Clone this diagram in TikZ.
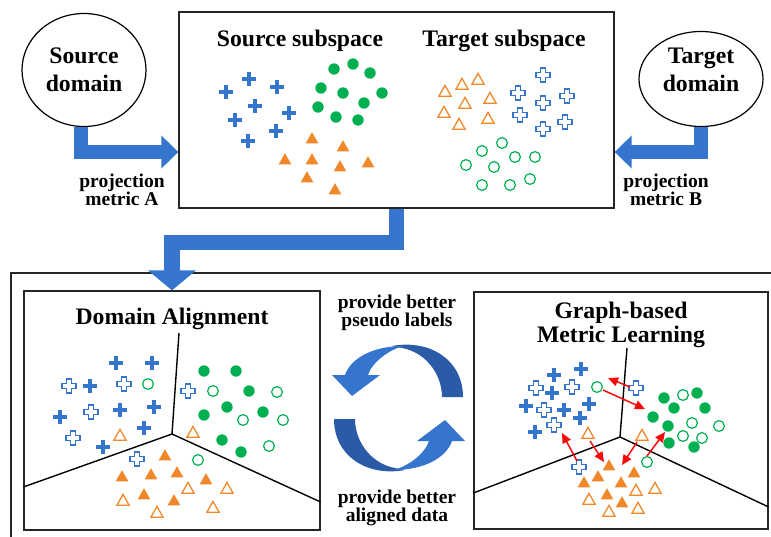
\documentclass[tikz,border=0pt]{standalone}
\usepackage{fontspec}
\setmainfont{Liberation Serif}
\usetikzlibrary{arrows.meta,shapes.geometric}
\definecolor{mblue}{RGB}{54,117,205}
\definecolor{darkblue}{RGB}{43,91,166}
\definecolor{morange}{RGB}{240,135,40}
\definecolor{mgreen}{RGB}{0,176,80}
\definecolor{mred}{RGB}{245,10,10}
\tikzset{
  frame/.style={draw=black!85, line width=1.3pt},
  sepline/.style={draw=black, line width=1.4pt},
  ttl/.style={font=\fontsize{23.7}{26}\selectfont\bfseries, anchor=base, inner sep=0pt},
  sml/.style={font=\fontsize{19.5}{20}\selectfont\bfseries, anchor=base, inner sep=0pt},
  domainell/.style={draw=black, line width=1.2pt, ellipse, inner sep=0pt},
  bigarrow/.style={draw=mblue, line width=14.5pt, -{Triangle[length=17pt,width=32pt]}},
  redarrow/.style={draw=mred, line width=1.5pt, -{Triangle[length=10pt,width=9pt]}},
  fplus/.pic={\fill[mblue] (-6.8,-2.1) rectangle (6.8,2.1); \fill[mblue] (-2.1,-6.8) rectangle (2.1,6.8);},
  hplus/.pic={\draw[mblue, line width=1.1pt, fill=white] (-2.5,-7)--(2.5,-7)--(2.5,-2.5)--(7,-2.5)--(7,2.5)--(2.5,2.5)--(2.5,7)--(-2.5,7)--(-2.5,2.5)--(-7,2.5)--(-7,-2.5)--(-2.5,-2.5)--cycle;},
  ftri/.pic={\fill[morange] (0,-5.8)--(6.3,5.3)--(-6.3,5.3)--cycle;},
  otri/.pic={\draw[morange, line width=1.3pt, line join=miter] (0,-5.6)--(6.1,5.2)--(-6.1,5.2)--cycle;},
  fcirc/.pic={\fill[mgreen] (0,0) circle (5.7pt);},
  ocirc/.pic={\draw[mgreen, line width=1.2pt] (0,0) circle (5.4pt);},
}
\begin{document}
\begin{tikzpicture}[x=1pt,y=-1pt]
\useasboundingbox (0,0) rectangle (771,536);
\clip (0,0) rectangle (771,536);

% ---------- top row ----------
\node[domainell, minimum width=124pt, minimum height=113pt] (srcdom) at (84,70) {};
\node[ttl] (srcA) at (84,63) {Source};
\node[ttl] (srcB) at (84,91) {domain};
\node[domainell, minimum width=124pt, minimum height=95pt] (tgtdom) at (701,79) {};
\node[ttl] (tgtA) at (701,63) {Target};
\node[ttl] (tgtB) at (701,91) {domain};

\node[frame, minimum width=435pt, minimum height=196pt, inner sep=0pt] (topbox) at (396.5,110) {};
\node[ttl] (srcsub) at (300,46) {Source subspace};
\node[ttl] (tgtsub) at (504,46) {Target subspace};

\coordinate (ain) at (topbox.west |- 0,152);
\coordinate (bin) at (topbox.east |- 0,152);
\draw[bigarrow] ([xshift=-3pt]srcdom.south) |- (ain);
\draw[bigarrow, line width=13.5pt] (tgtdom.south) |- (bin);

\node[sml] (pmA1) at (122,187) {projection};
\node[sml] (pmA2) at (122,205) {metric A};
\node[sml] (pmB1) at (666,187) {projection};
\node[sml] (pmB2) at (666,205) {metric B};

% top markers
\foreach \p in {(226,92),(249,79),(277,87),(255,106),(289,113),(235,120),(276,131),(248,141)} \pic at \p {fplus};
\foreach \p in {(334,69),(353,64),(370,73),(321,88),(343,93),(382,93),(318,107),(364,103),(336,117),(358,120)} \pic at \p {fcirc};
\foreach \p in {(312,138),(343,146),(285,159),(312,159),(340,166),(368,162),(307,177),(335,189)} \pic at \p {ftri};
\foreach \p in {(445,91),(462,84),(478,79),(490,98),(465,103),(444,112),(488,118),(459,124)} \pic at \p {otri};
\foreach \p in {(543,75),(518,93),(543,103),(567,96),(520,115),(565,122),(543,129)} \pic at \p {hplus};
\foreach \p in {(502,143),(482,151),(515,157),(535,157),(466,165),(494,167),(530,179),(482,185),(510,185)} \pic at \p {ocirc};

% ---------- bottom ----------
\draw[frame] (11,560) -- (11,273) -- (790,273);
\node[frame, minimum width=296pt, minimum height=239pt, inner sep=0pt] (leftpanel) at (172,410.5) {};
\node[frame, minimum width=294pt, minimum height=237pt, inner sep=0pt] (rightpanel) at (621,410.5) {};

\draw[bigarrow, line width=15.5pt, -{Triangle[length=20pt,width=47pt]}] (topbox.south) -- ++(0,34) -| (leftpanel.north);

\node[ttl] (datitle) at (172,324) {Domain Alignment};
\node[ttl] (gmA) at (621,318) {Graph-based};
\node[ttl] (gmB) at (621,342) {Metric Learning};

% separators left
\coordinate (jl) at (172,434);
\coordinate (jlu) at (179,333);
\coordinate (jll) at (leftpanel.west |- 0,487);
\coordinate (jlr) at (leftpanel.east |- 0,502);
\draw[sepline] (jlu) -- (jl) -- (jll);
\draw[sepline] (jl) -- (jlr);
% separators right
\coordinate (jr) at (620,437);
\coordinate (jru) at (627,348);
\coordinate (jrl) at (rightpanel.west |- 0,493);
\coordinate (jrr) at (rightpanel.east |- 0,507);
\draw[sepline] (jru) -- (jr) -- (jrl);
\draw[sepline] (jr) -- (jrr);

% left markers
\foreach \p in {(116,363),(152,363),(90,386),(60,417),(120,410),(154,407),(144,428),(103,447)} \pic at \p {fplus};
\foreach \p in {(69,386),(124,384),(91,412),(73,438),(188,391),(137,459)} \pic at \p {hplus};
\foreach \p in {(148,384),(213,391),(277,392),(243,420),(283,420),(269,446),(198,460)} \pic at \p {ocirc};
\foreach \p in {(204,371),(236,371),(249,391),(227,407),(204,415),(263,412),(222,440),(241,452)} \pic at \p {fcirc};
\foreach \p in {(120,435),(193,432),(188,488),(227,488),(123,500),(157,512),(213,507)} \pic at \p {otri};
\foreach \p in {(165,455),(177,472),(122,476),(151,474),(206,479),(144,494),(174,500)} \pic at \p {ftri};

% right markers
\foreach \p in {(554,375),(581,369),(552,393),(526,406),(564,410),(589,404),(580,418),(535,432)} \pic at \p {fplus};
\foreach \p in {(536,388),(572,387),(544,410),(554,425),(636,388),(579,467)} \pic at \p {hplus};
\foreach \p in {(597,387),(683,395),(692,423),(719,426),(683,436),(702,438),(647,462)} \pic at \p {ocirc};
\foreach \p in {(664,398),(697,393),(674,408),(705,408),(653,417),(668,426),(669,443),(694,447)} \pic at \p {fcirc};
\foreach \p in {(588,433),(642,435),(636,490),(655,488),(589,499),(609,511),(638,508)} \pic at \p {otri};
\foreach \p in {(609,465),(634,472),(598,476),(584,482),(621,482),(607,494),(622,502)} \pic at \p {ftri};

% red arrows
\coordinate (ra1) at (630,387); \coordinate (ra2) at (608,378);
\coordinate (rb1) at (603,390); \coordinate (rb2) at (645,409);
\coordinate (rc1) at (577,461); \coordinate (rc2) at (562,433);
\coordinate (rd1) at (590,441); \coordinate (rd2) at (604,462);
\coordinate (re1) at (637,442); \coordinate (re2) at (622,465);
\coordinate (rf1) at (647,456); \coordinate (rf2) at (665,432);
\foreach \a/\b in {ra1/ra2,rb1/rb2,rc1/rc2,rd1/rd2,re1/re2,rf1/rf2} \draw[redarrow] (\a) -- (\b);

% circular arrows
\node[sml] (pbA) at (397,308) {provide better};
\node[sml] (pbB) at (397,326) {pseudo labels};
\node[sml] (pcA) at (397,503) {provide better};
\node[sml] (pcB) at (397,521) {aligned data};

\foreach \r in {0,180}{
\begin{scope}[rotate around={\r:(398.5,408)}]
  \fill[darkblue] (392,346) .. controls (430,339) and (463,360) .. (463,397) -- (442,397)
        .. controls (442,374) and (425,349) .. (395,347) -- cycle;
  \fill[mblue] (345,375) .. controls (350,360) and (370,346) .. (404,346)
        .. controls (390,349) and (372,362) .. (368,375) -- cycle;
  \fill[mblue] (332,375) -- (380,375) -- (352,396) -- cycle;
\end{scope}}
\end{tikzpicture}
\end{document}
